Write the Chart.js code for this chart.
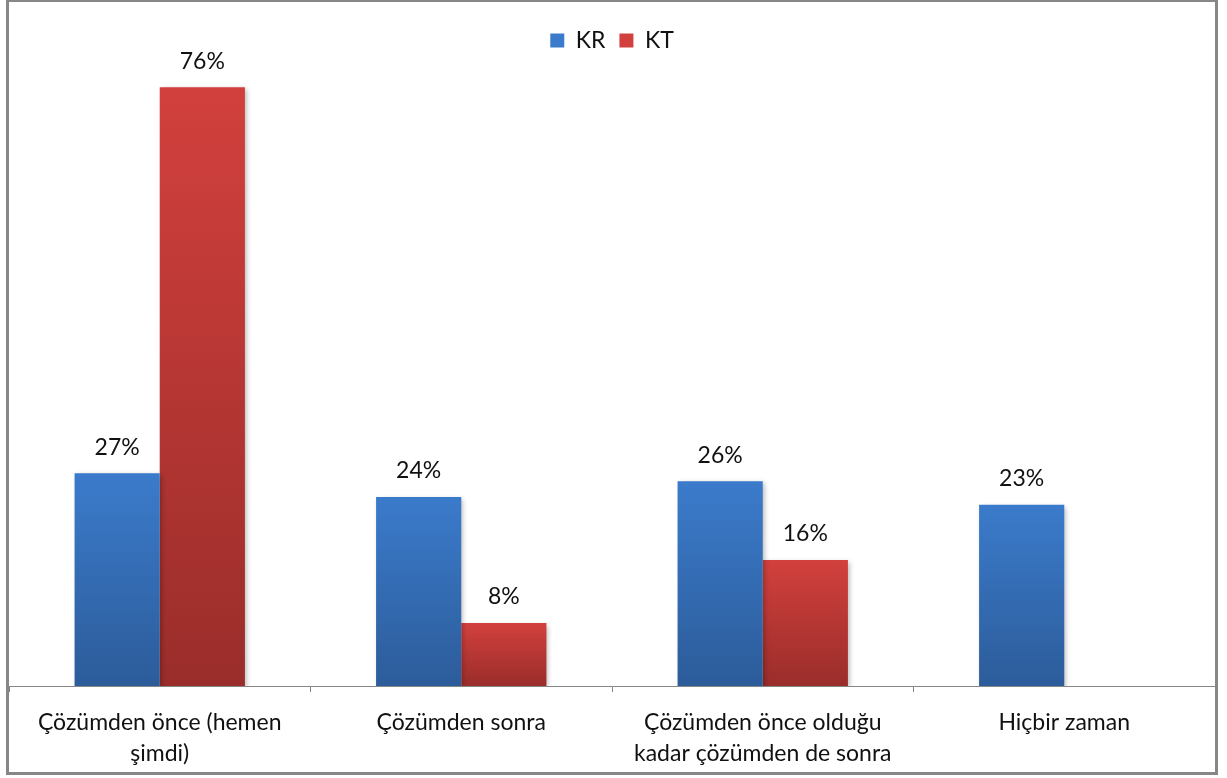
<!DOCTYPE html>
<html lang="tr">
<head>
    <meta charset="UTF-8" />
    <title>KR / KT</title>
    <script src="https://cdn.jsdelivr.net/npm/chart.js@4"></script>
    <style>
        html, body { margin: 0; padding: 0; background: #fff; }
        #wrap { position: relative; width: 1227px; height: 778px; }
        #frame {
            position: absolute; left: 6px; top: -1px; width: 1212px; height: 776px;
            box-sizing: border-box; border: 3px solid #878787;
        }
        #chart { position: absolute; left: 0; top: 0; }
    </style>
</head>
<body>
    <div id="wrap">
        <div id="frame"></div>
        <canvas id="chart" width="1227" height="778"></canvas>
    </div>
    <script>
        const categories = [
            ['Çözümden önce (hemen', 'şimdi)'],
            ['Çözümden sonra'],
            ['Çözümden önce olduğu', 'kadar çözümden de sonra'],
            ['Hiçbir zaman']
        ];
        const krValues = [27, 24, 26, 23];
        const ktValues = [76, 8, 16, null];

        const FONT = 'Lato, "Open Sans", sans-serif';
        const FONT_SIZE = 23;

        // renk: üst -> alt gradyan
        const krColors = ['#3b7bcb', '#2c5c9a'];
        const ktColors = ['#d2403d', '#9a2d2a'];

        function barGradient(colors) {
            return (ctx) => {
                const chart = ctx.chart;
                if (ctx.type !== 'data' || !chart.chartArea || ctx.raw == null) return colors[0];
                const y = chart.scales.y;
                const top = y.getPixelForValue(ctx.raw);
                const bottom = y.getPixelForValue(0);
                if (!isFinite(top) || bottom - top < 1) return colors[0];
                const g = chart.ctx.createLinearGradient(0, top, 0, bottom);
                g.addColorStop(0, colors[0]);
                g.addColorStop(1, colors[1]);
                return g;
            };
        }

        // gölge + değer etiketleri
        const barExtras = {
            id: 'barExtras',
            beforeDatasetsDraw(chart) {
                const c = chart.ctx;
                c.save();
                c.shadowColor = 'rgba(0,0,0,0.28)';
                c.shadowBlur = 5;
                c.shadowOffsetX = 2;
                c.shadowOffsetY = 2;
            },
            afterDatasetsDraw(chart) {
                chart.ctx.restore();
            },
            afterDraw(chart) {
                const c = chart.ctx;
                c.save();
                c.font = `${FONT_SIZE}px ${FONT}`;
                c.fillStyle = '#111';
                c.textAlign = 'center';
                c.textBaseline = 'middle';
                chart.data.datasets.forEach((ds, i) => {
                    const meta = chart.getDatasetMeta(i);
                    meta.data.forEach((bar, j) => {
                        const v = ds.data[j];
                        if (v == null) return;
                        c.fillText(v + '%', bar.x, bar.y - 26);
                    });
                });
                c.restore();
            }
        };

        new Chart(document.getElementById('chart'), {
            type: 'bar',
            data: {
                labels: categories,
                datasets: [
                    { label: 'KR', data: krValues, backgroundColor: barGradient(krColors), borderWidth: 0 },
                    { label: 'KT', data: ktValues, backgroundColor: barGradient(ktColors), borderWidth: 0 }
                ]
            },
            options: {
                responsive: false,
                animation: false,
                events: [],
                layout: { padding: { top: 15, left: 9, right: 12, bottom: 0 } },
                datasets: { bar: { categoryPercentage: 0.565, barPercentage: 1.0 } },
                scales: {
                    x: {
                        grid: { drawOnChartArea: false, color: '#868686', tickLength: 6, offset: true },
                        border: { color: '#868686', width: 1 },
                        ticks: {
                            color: '#111',
                            font: { family: FONT, size: FONT_SIZE, lineHeight: 1.35 },
                            padding: 15,
                            maxRotation: 0,
                            autoSkip: false
                        },
                        afterFit(axis) { axis.height = 92; }
                    },
                    y: { display: false, min: 0, max: 79.2 }
                },
                plugins: {
                    legend: {
                        position: 'top',
                        labels: {
                            boxWidth: 14,
                            boxHeight: 14,
                            padding: 14,
                            color: '#111',
                            font: { family: FONT, size: FONT_SIZE }
                        }
                    },
                    tooltip: { enabled: false }
                }
            },
            plugins: [barExtras]
        });
    </script>
</body>
</html>
